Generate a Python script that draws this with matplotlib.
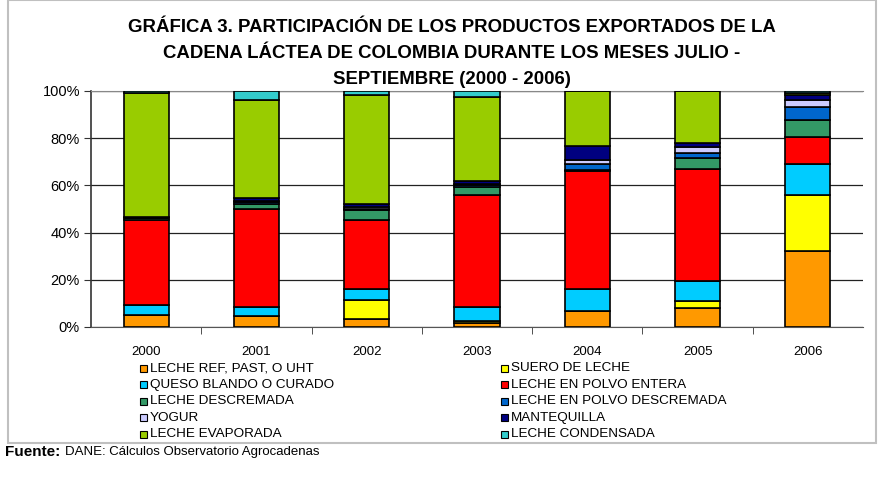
import numpy as np
import matplotlib
matplotlib.use('Agg')
import matplotlib.pyplot as plt
from matplotlib.patches import Rectangle

plt.rcParams['font.family'] = ['Liberation Sans', 'DejaVu Sans']

years = ['2000', '2001', '2002', '2003', '2004', '2005', '2006']
productos = ['LECHE REF, PAST, O UHT', 'SUERO DE LECHE',
             'QUESO BLANDO O CURADO', 'LECHE EN POLVO ENTERA',
             'LECHE DESCREMADA', 'LECHE EN POLVO DESCREMADA',
             'YOGUR', 'MANTEQUILLA',
             'LECHE EVAPORADA', 'LECHE CONDENSADA']
colores = ['#FF9900', '#FFFF00', '#00CCFF', '#FF0000', '#339966',
           '#0066CC', '#CCCCFF', '#000080', '#99CC00', '#33CCCC']

# share (%) per product, one value per year 2000..2006
ref_past = [5.2, 4.5, 3.5, 1.8, 6.8, 8.2, 32.2]
suero = [0.0, 0.0, 7.8, 0.6, 0.0, 2.7, 23.4]
queso = [4.0, 4.0, 5.0, 6.1, 9.5, 8.6, 13.4]
polvo_entera = [36.3, 41.7, 29.2, 47.1, 49.8, 47.4, 11.3]
descremada = [0.6, 2.1, 4.0, 3.1, 0.6, 4.5, 7.1]
polvo_descremada = [0.0, 0.6, 0.7, 1.0, 2.5, 2.4, 5.5]
yogur = [0.0, 0.4, 0.6, 0.3, 1.7, 2.4, 2.9]
mantequilla = [0.3, 1.2, 1.2, 1.3, 5.7, 1.9, 2.2]
evaporada = [52.8, 41.7, 46.3, 35.4, 23.4, 21.9, 0.8]
condensada = [0.8, 3.8, 1.7, 2.4, 0.0, 0.0, 0.8]

series = [ref_past, suero, queso, polvo_entera, descremada,
          polvo_descremada, yogur, mantequilla, evaporada, condensada]

W, H = 880, 486
fig = plt.figure(figsize=(8.8, 4.86), dpi=100)
fig.patches.append(Rectangle((8 / W, 43 / H), 868 / W, 443 / H,
                             transform=fig.transFigure, fill=False,
                             edgecolor='#C0C0C0', linewidth=1.5))
ax = fig.add_axes([91 / W, 1 - 327 / H, 772 / W, 236 / H])

data = np.array(series, dtype=float)
data = data / data.sum(axis=0) * 100
x = np.arange(len(years))
bottom = np.zeros(len(years))
for vals, col in zip(data, colores):
    ax.bar(x, vals, 0.41, bottom=bottom, color=col, edgecolor='black',
           linewidth=1.2, zorder=3)
    bottom += vals

ax.set_xlim(-0.5, len(years) - 0.5)
ax.set_ylim(0, 100)
ax.set_yticks(np.arange(0, 101, 20))
ax.set_yticklabels([f'{v}%' for v in range(0, 101, 20)], fontsize=10.5)
ax.set_xticks(x)
ax.set_xticklabels(years, fontsize=9.5)
ax.tick_params(axis='x', length=0, pad=14)
ax.set_xticks(np.arange(0.5, len(years) - 1, 1), minor=True)
ax.tick_params(axis='x', which='minor', length=5, color='#333333')
ax.tick_params(axis='y', length=5, color='#333333', pad=3)
ax.yaxis.grid(True, color='#222222', linewidth=0.9, zorder=0)
ax.set_axisbelow(True)
ax.spines['right'].set_visible(False)
ax.spines['top'].set_color('#888888')
ax.spines['left'].set_color('#333333')
ax.spines['bottom'].set_color('#555555')
ax.spines['left'].set_linewidth(1.2)

titulo = ['GRÁFICA 3. PARTICIPACIÓN DE LOS PRODUCTOS EXPORTADOS DE LA',
          'CADENA LÁCTEA DE COLOMBIA DURANTE LOS MESES JULIO -',
          'SEPTIEMBRE (2000 - 2006)']
for i, linea in enumerate(titulo):
    fig.text(452 / W, 1 - (27 + 26 * i) / H, linea, ha='center',
             va='center', fontsize=13.4, fontweight='bold')

# legend: two columns, filled row by row
for i, (name, col) in enumerate(zip(productos, colores)):
    fila, columna = divmod(i, 2)
    xm = 140 + 361 * columna
    ym = 368 + 16.5 * fila
    fig.patches.append(Rectangle((xm / W, 1 - (ym + 3.5) / H), 7 / W, 7 / H,
                                 transform=fig.transFigure, facecolor=col,
                                 edgecolor='black', linewidth=0.8))
    fig.text((xm + 10) / W, 1 - ym / H, name, fontsize=9.7,
             va='center', ha='left')

fig.text(5 / W, 1 - 452 / H, 'Fuente:', fontsize=11, fontweight='bold',
         va='center', ha='left')
fig.text(65 / W, 1 - 452 / H, 'DANE: Cálculos Observatorio Agrocadenas',
         fontsize=9.5, va='center', ha='left')

fig.savefig('out.png', dpi=100)
